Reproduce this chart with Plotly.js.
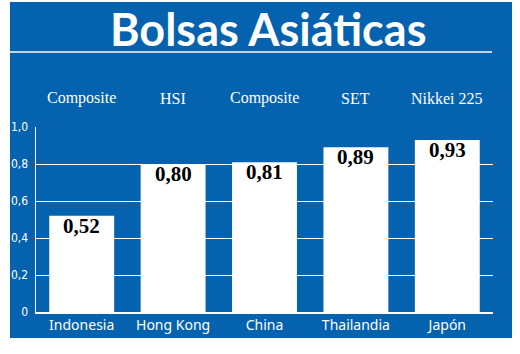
<!DOCTYPE html>
<html>
<head>
<meta charset="utf-8">
<script src="https://cdn.plot.ly/plotly-3.0.1.min.js"></script>
<style>html,body{margin:0;padding:0;background:#fff;}</style>
</head>
<body>
<div id="chart" style="width:520px;height:354px;"></div>
<script>
const countries = ["Indonesia", "Hong Kong", "China", "Thailandia", "Japón"];
const indices = ["Composite", "HSI", "Composite", "SET", "Nikkei 225"];
const values = [0.52, 0.80, 0.81, 0.89, 0.93];
const valueLabels = ["0,52", "0,80", "0,81", "0,89", "0,93"];
const yTickVals = [0, 0.2, 0.4, 0.6, 0.8, 1.0];
const yTickText = ["0", "0,2", "0,4", "0,6", "0,8", "1,0"];

const BLUE = "#0562ae";

const trace = {
  type: "bar",
  x: countries,
  y: values,
  marker: {color: "#ffffff", line: {width: 0}},
  hoverinfo: "skip"
};

const annotations = indices.map((t, i) => ({
  x: countries[i], xref: "x", y: 1.155, yref: "paper",
  text: t, showarrow: false,
  font: {family: "Liberation Serif, Times New Roman, serif", size: 16, color: "#ffffff"},
  xanchor: "center", yanchor: "middle"
}));
values.forEach((v, i) => annotations.push({
  x: countries[i], xref: "x", y: v, yref: "y",
  text: "<b>" + valueLabels[i] + "</b>", showarrow: false,
  font: {family: "Liberation Serif, Times New Roman, serif", size: 21, color: "#000000"},
  xanchor: "center", yanchor: "top", yshift: 4
}));
annotations.push({
  x: 0.5, xref: "paper", y: 1.528, yref: "paper",
  text: "<b>Bolsas Asiáticas</b>", showarrow: false,
  font: {family: "Lato, Open Sans, sans-serif", size: 45, color: "#ffffff"},
  xanchor: "center", yanchor: "middle", xshift: 3
});

const layout = {
  width: 520, height: 354,
  margin: {l: 36, r: 27, t: 127, b: 42, pad: 0},
  paper_bgcolor: "#ffffff",
  plot_bgcolor: "rgba(0,0,0,0)",
  separators: ",.",
  showlegend: false,
  bargap: 0.29,
  xaxis: {
    type: "category",
    range: [-0.5, 4.5],
    showgrid: false,
    showline: true, linecolor: "#ffffff", linewidth: 1.5,
    ticks: "",
    tickfont: {family: "Noto Sans, Open Sans, sans-serif", size: 14, color: "#ffffff"},
    fixedrange: true
  },
  yaxis: {
    range: [0, 1.0],
    tickvals: yTickVals, ticktext: yTickText,
    showgrid: true, gridcolor: "#ffffff", gridwidth: 1,
    zeroline: false,
    showline: true, linecolor: "#ffffff", linewidth: 1.5,
    ticks: "", ticklabelstandoff: 4,
    tickfont: {family: "DejaVu Sans Condensed, sans-serif", size: 12, color: "#ffffff"},
    fixedrange: true
  },
  shapes: [
    {type: "rect", xref: "paper", yref: "paper", x0: -0.0569, x1: 1.0416, y0: -0.1405, y1: 1.6757,
     fillcolor: BLUE, line: {width: 0}, layer: "below"},
    {type: "line", xref: "paper", yref: "paper", x0: -0.0569, x1: 0.9978, y0: 1.4054, y1: 1.4054,
     line: {color: "#ffffff", width: 1.5}, layer: "below"}
  ],
  annotations: annotations
};

Plotly.newPlot("chart", [trace], layout, {displayModeBar: false, staticPlot: true});
</script>
</body>
</html>
